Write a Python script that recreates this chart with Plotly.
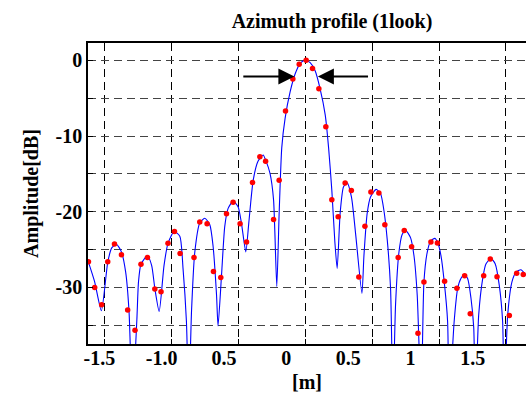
import plotly.graph_objects as go

# Red sample points (position [m], amplitude [dB])
sample_x = [-1.588, -1.538, -1.482, -1.433, -1.379, -1.323, -1.273, -1.214, -1.166, -1.114,
            -1.055, -1.005, -0.949, -0.897, -0.852, -0.740, -0.694, -0.635, -0.584, -0.525,
            -0.479, -0.426, -0.370, -0.318, -0.270, -0.211, -0.165, -0.101, -0.056, -0.005,
            0.054, 0.105, 0.161, 0.212, 0.263, 0.319, 0.367, 0.418, 0.474, 0.524,
            0.584, 0.633, 0.681, 0.745, 0.793, 0.900, 0.949, 1.008, 1.059, 1.107,
            1.163, 1.215, 1.273, 1.372, 1.434, 1.479, 1.587, 1.640, 1.694, 1.793,
            1.852, 1.905]
sample_db = [-26.59, -30.00, -32.29, -26.59, -24.26, -25.69, -32.98, -35.66, -26.94, -26.04,
             -30.22, -30.57, -24.17, -22.62, -25.52, -26.04, -21.37, -21.58, -27.89, -28.70,
             -20.28, -18.73, -21.58, -24.00, -16.14, -12.73, -13.32, -21.02, -15.84, -6.68,
             -2.46, -0.52, 0.00, -1.08, -3.76, -8.76, -18.43, -20.67, -16.19, -17.20,
             -28.63, -21.93, -17.40, -17.53, -21.71, -26.04, -22.49, -24.61, -36.05, -29.27,
             -24.00, -24.13, -29.18, -30.09, -28.45, -33.46, -28.45, -26.24, -28.58, -33.72,
             -28.11, -28.28]

# Interpolated azimuth profile (blue line)
profile_x = [-1.592, -1.538, -1.484, -1.433, -1.401, -1.363, -1.323, -1.289, -1.262, -1.235,
             -1.199, -1.186, -1.166, -1.114, -1.080, -1.055, -1.020, -0.981, -0.949, -0.900,
             -0.854, -0.828, -0.801, -0.782, -0.760, -0.734, -0.694, -0.654, -0.613, -0.587,
             -0.559, -0.547, -0.519, -0.493, -0.466, -0.426, -0.386, -0.359, -0.324, -0.300,
             -0.265, -0.225, -0.185, -0.163, -0.129, -0.101, -0.075, -0.056, -0.035, -0.008,
             0.032, 0.072, 0.113, 0.153, 0.193, 0.233, 0.273, 0.314, 0.341, 0.367,
             0.391, 0.410, 0.434, 0.461, 0.490, 0.525, 0.560, 0.609, 0.625, 0.651,
             0.678, 0.723, 0.759, 0.785, 0.812, 0.839, 0.858, 0.879, 0.906, 0.932,
             0.960, 1.000, 1.027, 1.053, 1.085, 1.107, 1.133, 1.161, 1.195, 1.219,
             1.244, 1.270, 1.297, 1.310, 1.350, 1.378, 1.404, 1.431, 1.458, 1.485,
             1.507, 1.520, 1.547, 1.579, 1.605, 1.646, 1.680, 1.712, 1.739, 1.752,
             1.780, 1.814, 1.847, 1.887, 1.927]
profile_db = [-26.46, -29.27, -33.07, -26.68, -24.78, -24.30, -25.30, -27.98, -33.16, -45.0,
              -34.24, -29.27, -26.94, -25.82, -27.11, -30.09, -33.16, -27.11, -24.17, -22.62,
              -23.23, -27.54, -34.46, -45.0, -33.16, -25.39, -21.50, -20.85, -21.71, -24.52,
              -31.00, -35.10, -28.41, -21.93, -19.56, -18.60, -19.34, -21.50, -25.30, -21.50,
              -15.88, -13.29, -12.51, -13.25, -14.97, -18.43, -29.87, -20.16, -11.53, -7.64,
              -4.18, -1.81, -0.39, 0.05, -0.30, -1.37, -3.76, -7.20, -11.53, -17.14,
              -23.87, -27.50, -20.16, -16.71, -16.19, -18.07, -23.22, -30.78, -25.82, -20.21,
              -18.04, -17.05, -17.62, -19.77, -23.65, -30.13, -45.0, -32.29, -25.39, -23.00,
              -22.45, -23.45, -25.82, -31.00, -45.0, -29.27, -25.39, -23.87, -23.52, -24.13,
              -25.82, -29.27, -34.46, -45.0, -34.46, -30.13, -28.83, -28.32, -28.83, -31.43,
              -35.31, -45.0, -33.59, -28.83, -26.89, -26.17, -26.89, -29.70, -34.46, -45.0,
              -33.59, -29.27, -27.98, -27.67, -28.41]

# Resolution arrows
arrow_level = -2.15
left_arrow = (-0.356, 0.066)   # tail, tip
right_arrow = (0.670, 0.255)   # tail, tip

x_tick_vals = [-1.5, -1.0, -0.5, 0.0, 0.5, 1.0, 1.5]
x_tick_text = ["-1.5", "-1.0", "0.5", "0", "0.5", "1", "1.5"]
y_tick_vals = [-35, -30, -25, -20, -15, -10, -5, 0]
y_tick_text = ["", "-30", "", "-20", "", "-10", "", "0"]

FONT = "Liberation Serif"
x_range = [-1.5916, 1.9269]
y_range = [-37.47, 2.29]

W, H = 526, 393

fig = go.Figure()
fig.add_trace(go.Scatter(x=profile_x, y=profile_db, mode="lines",
                         line=dict(color="#0000ff", width=1.1, shape="spline", smoothing=0.6),
                         showlegend=False, hoverinfo="skip"))
fig.add_trace(go.Scatter(x=sample_x, y=sample_db, mode="markers",
                         marker=dict(color="#ff0000", size=5.5),
                         showlegend=False, hoverinfo="skip"))
# carrier for the label axis
fig.add_trace(go.Scatter(x=[None], y=[None], xaxis="x2", yaxis="y", showlegend=False))

for tail, tip in (left_arrow, right_arrow):
    fig.add_annotation(x=tip, y=arrow_level, ax=tail, ay=arrow_level,
                       xref="x", yref="y", axref="x", ayref="y",
                       text="", showarrow=True, arrowhead=2, arrowsize=1.6,
                       arrowwidth=2, arrowcolor="black", standoff=0)

fig.update_layout(
    width=W, height=H,
    margin=dict(l=88, r=0, t=43, b=43),
    paper_bgcolor="white", plot_bgcolor="white",
    title=dict(text="Azimuth profile (1look)", x=332 / W, xref="container", xanchor="center",
               y=1 - 21 / H, yref="container", yanchor="middle",
               font=dict(family=FONT, size=20, color="black", weight="bold")),
    xaxis=dict(range=x_range, showgrid=True, gridcolor="#000000", gridwidth=1,
               griddash="8px,5px", zeroline=False,
               tick0=-1.4574, dtick=0.5372, ticks="inside", ticklen=5, tickwidth=1,
               tickcolor="black", showticklabels=False,
               showline=True, linecolor="black", linewidth=1.6, mirror="ticks"),
    xaxis2=dict(range=x_range, overlaying="x", side="bottom", showgrid=False, zeroline=False,
                tickmode="array", tickvals=x_tick_vals, ticktext=x_tick_text, ticks="",
                tickfont=dict(family=FONT, size=20, color="black", weight="bold"),
                title=dict(text="[m]", standoff=10,
                           font=dict(family=FONT, size=20, color="black", weight="bold")),
                showline=False),
    yaxis=dict(range=y_range, showgrid=True, gridcolor="#444444", gridwidth=1,
               griddash="8px,5px", zeroline=False,
               tickmode="array", tickvals=y_tick_vals, ticktext=y_tick_text,
               ticks="inside", ticklen=5, tickwidth=1, tickcolor="black",
               tickfont=dict(family=FONT, size=20, color="black", weight="bold"),
               title=dict(text="Amplitude[dB]", standoff=12,
                          font=dict(family=FONT, size=20, color="black", weight="bold")),
               showline=True, linecolor="black", linewidth=1.6, mirror=False),
)

fig.write_html("out.html", config={"displayModeBar": False},
               post_script="document.body.style.margin='0';document.body.style.overflow='hidden';")
